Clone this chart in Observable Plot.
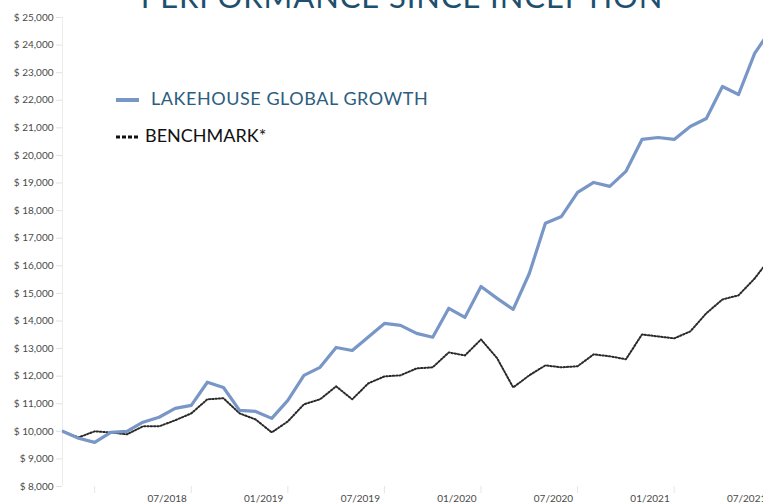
<!DOCTYPE html>
<html>
<head>
<meta charset="utf-8">
<script src="https://cdn.jsdelivr.net/npm/d3@7"></script>
<script src="https://cdn.jsdelivr.net/npm/@observablehq/plot@0.6"></script>
<style>
  html, body { margin: 0; padding: 0; background: #fff; overflow: hidden; }
  #wrap { position: relative; width: 763px; height: 503px; overflow: hidden; font-family: Lato, "Open Sans", sans-serif; }
  #title { position: absolute; left: 0; width: 804px; top: -19px; text-align: center; font-size: 31px; line-height: 30px; color: #1d4f6e; letter-spacing: 0.9px; white-space: nowrap; }
  .leg { position: absolute; left: 116px; font-size: 18px; line-height: 18px; white-space: nowrap; }
  .sw { display: inline-block; vertical-align: middle; }
  #chart { position: absolute; left: 0; top: 0; }
</style>
</head>
<body>
<div id="wrap">
  <div id="chart"></div>
  <div id="title">PERFORMANCE SINCE INCEPTION</div>
  <div class="leg" id="leg1" style="top:89px;color:#2c5d7e;letter-spacing:0.55px;"></div>
  <div class="leg" id="leg2" style="top:126px;color:#111;"></div>
</div>
<script>
// ---- data ----
const startYear = 2018; // month index 0 = 01/2018 (inception, $10,000)
const months = ["01/2018","02/2018","03/2018","04/2018","05/2018","06/2018","07/2018","08/2018","09/2018","10/2018","11/2018","12/2018",
                "01/2019","02/2019","03/2019","04/2019","05/2019","06/2019","07/2019","08/2019","09/2019","10/2019","11/2019","12/2019",
                "01/2020","02/2020","03/2020","04/2020","05/2020","06/2020","07/2020","08/2020","09/2020","10/2020","11/2020","12/2020",
                "01/2021","02/2021","03/2021","04/2021","05/2021","06/2021","07/2021","08/2021","09/2021"];
const fund  = [10000, 9750, 9600, 9960, 10000, 10330, 10510, 10830, 10940, 11780, 11590, 10760,
               10720, 10470, 11120, 12030, 12320, 13040, 12930, 13420, 13910, 13840, 13550, 13410,
               14460, 14130, 15250, 14820, 14420, 15720, 17540, 17790, 18660, 19020, 18880, 19420,
               20580, 20650, 20580, 21050, 21340, 22500, 22210, 23700, 24550];
const bench = [10000, 9780, 10000, 9960, 9890, 10180, 10180, 10400, 10650, 11160, 11200, 10650,
               10430, 9960, 10360, 10980, 11160, 11630, 11160, 11740, 11990, 12030, 12280, 12320,
               12860, 12750, 13330, 12650, 11590, 12030, 12390, 12320, 12360, 12790, 12720, 12610,
               13510, 13440, 13370, 13620, 14280, 14780, 14930, 15540, 16300];
const seriesNames = ["LAKEHOUSE GLOBAL GROWTH", "BENCHMARK*"];
const yTicks = [8000, 9000, 10000, 11000, 12000, 13000, 14000, 15000, 16000, 17000, 18000, 19000, 20000, 21000, 22000, 23000, 24000, 25000];
const xLabels = ["07/2018", "01/2019", "07/2019", "01/2020", "07/2020", "01/2021", "07/2021"];
const xTickMarks = ["03/2018", "09/2018", "03/2019", "09/2019", "03/2020", "09/2020", "03/2021"];

// ---- helpers ----
const idx = s => { const [m, y] = s.split("/").map(Number); return (y - startYear) * 12 + (m - 1); };
const fundData = months.map((m, i) => ({x: idx(m), y: fund[i]}));
const benchData = months.map((m, i) => ({x: idx(m), y: bench[i]}));
const labelPos = xLabels.map(s => ({p: idx(s) + 0.5, t: s}));
const fmt = d => "$ " + d3.format(",")(d);

const blue = "#7896c6";
const dark = "#2a2a2a";

const chart = Plot.plot({
  width: 763,
  height: 503,
  marginLeft: 62,
  marginRight: 0,
  marginTop: 17,
  marginBottom: 17,
  style: {fontFamily: "Lato, 'Open Sans', sans-serif", background: "transparent"},
  x: {type: "linear", domain: [0, 43.55], axis: null},
  y: {domain: [8000, 25000], axis: null},
  marks: [
    Plot.ruleX([0], {stroke: "#ececec"}),
    Plot.axisY(yTicks, {label: null, tickSize: 6, tickPadding: 3, tickFormat: fmt, fontSize: 10, stroke: "#e2e2e2", fill: "#4a4a4a"}),
    Plot.axisX(xTickMarks.map(idx), {label: null, anchor: "bottom", tickSize: 7, tickFormat: () => "", stroke: "#e6e6e6"}),
    Plot.axisX(labelPos.map(d => d.p), {label: null, anchor: "bottom", tickSize: 0, tickPadding: 8, fontSize: 10, fill: "#4a4a4a",
      tickFormat: p => labelPos.find(d => d.p === p).t}),
    Plot.line(benchData, {x: "x", y: "y", stroke: dark, strokeWidth: 2, strokeDasharray: "1.4 1.9", clip: true}),
    Plot.line(fundData, {x: "x", y: "y", stroke: blue, strokeWidth: 3.2, clip: true})
  ]
});
document.getElementById("chart").appendChild(chart);

// legend
const sw = (style) => `<svg class="sw" width="23" height="8" style="margin-right:${style.mr}px;vertical-align:${style.va}px">` +
  `<line x1="0" x2="23" y1="4" y2="4" stroke="${style.c}" stroke-width="${style.w}" ${style.d ? `stroke-dasharray="${style.d}"` : ""}/></svg>`;
document.getElementById("leg1").innerHTML = sw({c: blue, w: 4, mr: 12, va: 1}) + seriesNames[0];
document.getElementById("leg2").innerHTML = sw({c: "#111", w: 3, d: "4 2", mr: 6, va: 1}) + seriesNames[1];
</script>
</body>
</html>
